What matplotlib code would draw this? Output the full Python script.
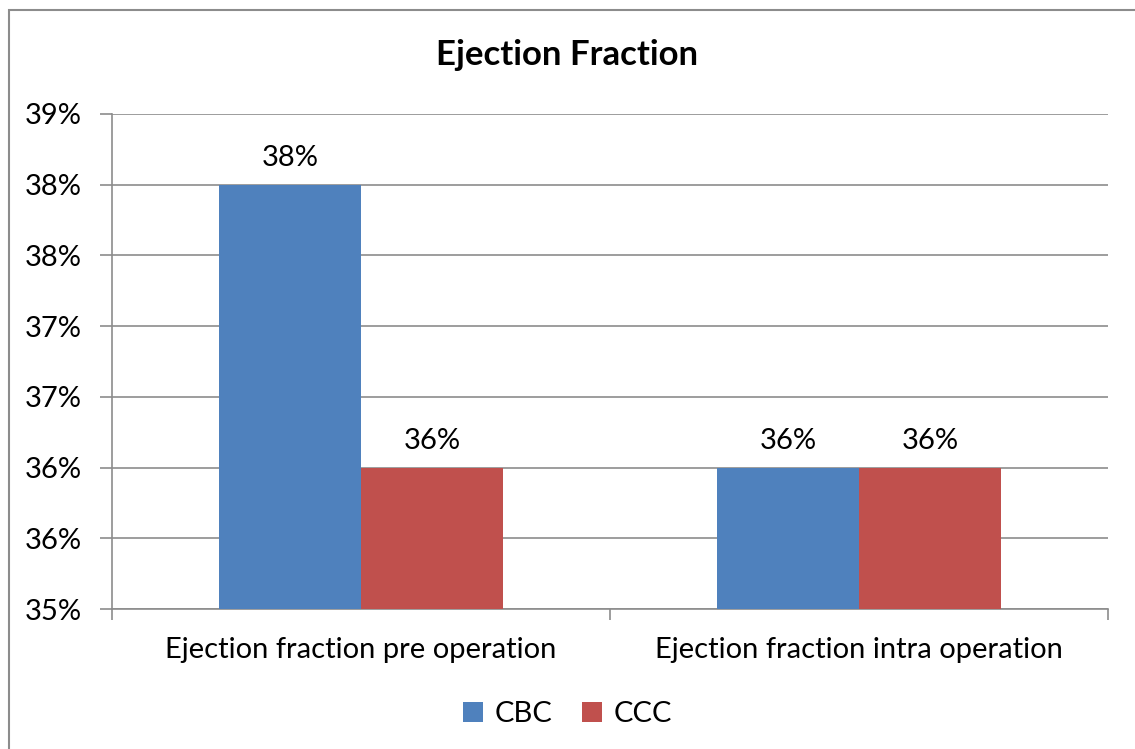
import numpy as np
import matplotlib.pyplot as plt
from matplotlib.patches import Rectangle

categories = ["Ejection fraction pre operation", "Ejection fraction intra operation"]
series = ["CBC", "CCC"]
cbc = [38.43, 36.14]
ccc = [36.14, 36.14]
bar_labels = [["38%", "36%"], ["36%", "36%"]]
colors = ["#4F81BD", "#C0504D"]

plt.rcParams['font.family'] = ['Lato', 'DejaVu Sans']

fig = plt.figure(figsize=(11.35, 7.49), dpi=100)
# outer chart frame (runs off the right and bottom edges)
fig.patches.append(Rectangle((9/1135, -0.05), 1.1, 1.05 - 10/749, transform=fig.transFigure,
                             fill=False, edgecolor="#8c8c8c", linewidth=1.5))

ax = fig.add_axes([112/1135, 1 - 609/749, (1108-112)/1135, (609-114)/749])

x = np.arange(len(categories))
w = 0.285
vals = [cbc, ccc]
for i, s in enumerate(series):
    pos = x + (i - 0.5) * w
    ax.bar(pos, vals[i], width=w, bottom=0, color=colors[i], label=s, zorder=3)
    for p, v, t in zip(pos, vals[i], bar_labels[i]):
        ax.text(p, v + 0.11, t, ha="center", va="bottom", fontsize=21)

ymin, ymax = 35, 39
yt = np.linspace(ymin, ymax, 8)
ax.set_ylim(ymin, ymax)
ax.set_yticks(yt)
ax.set_yticklabels([f"{round(v):.0f}%" for v in yt], fontsize=21)
ax.set_xlim(-0.5, 1.5)
ax.set_xticks([-0.5, 0.5, 1.5])
ax.set_xticklabels([])
ax.set_xticks(x, minor=True)
ax.set_xticklabels(categories, minor=True, fontsize=21)
ax.tick_params(axis="x", which="minor", length=0, pad=20)
ax.tick_params(axis="x", which="major", length=8, color="#8c8c8c", width=1.2)
ax.tick_params(axis="y", length=9, color="#8c8c8c", width=1.2, pad=13)
ax.grid(axis="y", color="#8c8c8c", linewidth=1.2, zorder=0)
for side in ["top", "right"]:
    ax.spines[side].set_visible(False)
for side in ["left", "bottom"]:
    ax.spines[side].set_color("#8c8c8c")
    ax.spines[side].set_linewidth(1.2)

fig.text(0.5, 1 - 55/749, "Ejection Fraction", ha="center", va="center", fontsize=25, fontweight="bold")
fig.legend(loc="center", bbox_to_anchor=(0.5, 1 - 714/749), ncol=2, frameon=False, fontsize=21,
           handlelength=0.7, handleheight=0.7, columnspacing=1.0, handletextpad=0.4)

fig.savefig("out.png", dpi=100)
